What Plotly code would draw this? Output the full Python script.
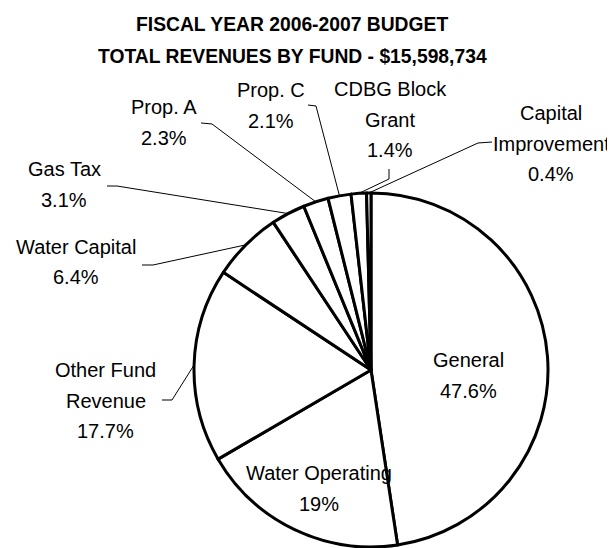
import math
import plotly.graph_objects as go

# ---- data ----
funds = ["General", "Water Operating", "Other Fund Revenue", "Water Capital", "Gas Tax",
         "Prop. A", "Prop. C", "CDBG Block Grant", "Capital Improvement"]
shares = [47.6, 19, 17.7, 6.4, 3.1, 2.3, 2.1, 1.4, 0.4]
label_lines = [["General", "47.6%"], ["Water Operating", "19%"], ["Other Fund", "Revenue", "17.7%"],
               ["Water Capital", "6.4%"], ["Gas Tax", "3.1%"], ["Prop. A", "2.3%"],
               ["Prop. C", "2.1%"], ["CDBG Block", "Grant", "1.4%"], ["Capital", "Improvement", "0.4%"]]
title_lines = ["FISCAL YEAR 2006-2007 BUDGET", "TOTAL REVENUES BY FUND - $15,598,734"]

# ---- layout (pixels in the window; page body has an 8px margin) ----
OFF = 8
W, H = 615 - OFF, 548 - OFF
CX, CY, R = 371, 370, 177
FONT = "Liberation Sans, Arial, sans-serif"

def px(x):
    return (x - OFF) / W

def py(y):
    return 1 - (y - OFF) / H

# label line centers (x, first-line y), line spacing
label_pos = [(468, 360), (319, 473), (106, 370), (76, 247), (64, 169),
             (164, 107), (271, 90), (390, 89), (551, 113)]
LINE_GAP = 30.5
# leader starts (label side): two points each, or None for inside labels
leaders = [None, None, [(162, 400), (172, 400)], [(142, 265), (153, 265)],
           [(107, 186), (117, 186)], [(201, 123), (212, 124)], [(308, 105), (316, 106)],
           [(389, 169), (389, 179)], [(492, 142), (478, 143)]]

fig = go.Figure(go.Pie(
    labels=funds, values=shares, sort=False, direction="clockwise", rotation=0,
    textinfo="none", hoverinfo="label+percent",
    marker=dict(colors=["white"] * len(funds), line=dict(color="black", width=3)),
    domain=dict(x=[px(CX - R), px(CX + R)], y=[py(CY + R), py(CY - R)]),
    showlegend=False,
))

annotations = []
for i, t in enumerate(title_lines):
    annotations.append(dict(x=px(292), y=py(24 + 32 * i), xref="paper", yref="paper",
                            text="<b>" + t + "</b>", showarrow=False, xanchor="center", yanchor="middle",
                            font=dict(family=FONT, size=19.3, color="black")))

shapes = []
total = sum(shares)
cum = 0.0
for i, v in enumerate(shares):
    mid = (cum + v / 2) / total * 2 * math.pi
    cum += v
    lx, ly = label_pos[i]
    for j, line in enumerate(label_lines[i]):
        annotations.append(dict(x=px(lx), y=py(ly + LINE_GAP * j), xref="paper", yref="paper",
                                text=line, showarrow=False, xanchor="center", yanchor="middle",
                                font=dict(family=FONT, size=20, color="black")))
    if leaders[i] is not None:
        ex = CX + R * math.sin(mid)
        ey = CY - R * math.cos(mid)
        pts = leaders[i] + [(ex, ey)]
        path = "M " + " L ".join(f"{px(a):.5f},{py(b):.5f}" for a, b in pts)
        shapes.append(dict(type="path", path=path, xref="paper", yref="paper",
                           line=dict(color="black", width=1)))

fig.update_layout(
    width=W, height=H, margin=dict(l=0, r=0, t=0, b=0),
    paper_bgcolor="white", plot_bgcolor="white",
    annotations=annotations, shapes=shapes,
)

fig.write_html("out.html")
